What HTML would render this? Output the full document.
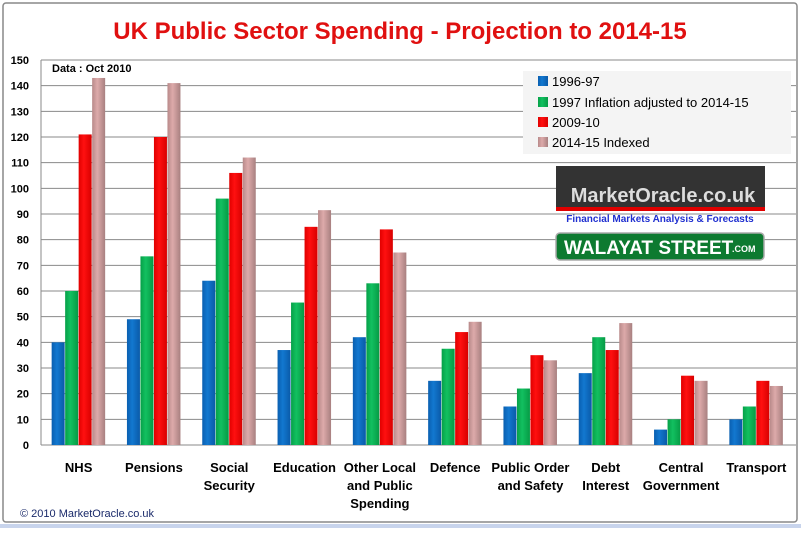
<!DOCTYPE html>
<html><head><meta charset="utf-8"><style>
body{margin:0;width:801px;height:528px;background:#fff;overflow:hidden;font-family:"Liberation Sans",sans-serif}
</style></head><body>
<svg width="801" height="528" xmlns="http://www.w3.org/2000/svg" id="chart">
<defs>
<linearGradient id="g0" x1="0" x2="1"><stop offset="0" stop-color="#0a5fb0"/><stop offset="0.4" stop-color="#1278d0"/><stop offset="1" stop-color="#0a5aa8"/></linearGradient>
<linearGradient id="g1" x1="0" x2="1"><stop offset="0" stop-color="#06a048"/><stop offset="0.4" stop-color="#12c060"/><stop offset="1" stop-color="#069a45"/></linearGradient>
<linearGradient id="g2" x1="0" x2="1"><stop offset="0" stop-color="#e00000"/><stop offset="0.4" stop-color="#ff1010"/><stop offset="1" stop-color="#d80000"/></linearGradient>
<linearGradient id="g3" x1="0" x2="1"><stop offset="0" stop-color="#b88a8a"/><stop offset="0.4" stop-color="#ddaaaa"/><stop offset="1" stop-color="#a88080"/></linearGradient>
</defs>
<rect x="3" y="3" width="794" height="519" fill="#fff" stroke="#888" stroke-width="1.5" rx="3"/>
<rect x="0" y="524" width="801" height="4" fill="#c8d4ec"/>
<text x="400" y="39" text-anchor="middle" font-size="24" font-weight="bold" fill="#e01010">UK Public Sector Spending - Projection to 2014-15</text>
<g id="grid"></g>
<g id="bars"></g>
<g id="xlabels"></g>
<text x="52" y="72" font-size="11" font-weight="bold" fill="#000">Data : Oct 2010</text>
<g>
<rect x="523" y="71" width="268" height="83" fill="#f4f4f4"/>
<rect x="538" y="76" width="10" height="10" fill="url(#g0)"/><text x="552" y="86" font-size="13" fill="#000">1996-97</text>
<rect x="538" y="97" width="10" height="10" fill="url(#g1)"/><text x="552" y="107" font-size="13" fill="#000">1997 Inflation adjusted to 2014-15</text>
<rect x="538" y="117" width="10" height="10" fill="url(#g2)"/><text x="552" y="127" font-size="13" fill="#000">2009-10</text>
<rect x="538" y="137" width="10" height="10" fill="url(#g3)"/><text x="552" y="147" font-size="13" fill="#000">2014-15 Indexed</text>
</g>
<g>
<rect x="556" y="166" width="209" height="42" fill="#333"/>
<rect x="556" y="207" width="209" height="4" fill="#e00000"/>
<text x="663" y="202" text-anchor="middle" font-size="20" font-weight="bold" fill="#ddd">MarketOracle.co.uk</text>
<text x="660" y="222" text-anchor="middle" font-size="10" font-weight="bold" fill="#2030d0">Financial Markets Analysis &amp; Forecasts</text>
</g>
<g>
<rect x="556" y="233" width="208" height="27" rx="4" fill="#0d7a30" stroke="#aaa" stroke-width="1.5"/>
<text x="564" y="254" font-size="19" font-weight="bold" fill="#fff" font-family="'Liberation Sans Narrow','Liberation Sans',sans-serif">WALAYAT STREET</text>
<text x="732" y="252" font-size="9" font-weight="bold" fill="#fff">.COM</text>
</g>
<text x="20" y="517" font-size="11" fill="#1a2a6a">© 2010 MarketOracle.co.uk</text>
</svg>
<script>
const categories=[["NHS"],["Pensions"],["Social","Security"],["Education"],["Other Local","and Public","Spending"],["Defence"],["Public Order","and Safety"],["Debt","Interest"],["Central","Government"],["Transport"]];
const s1996=[40,49,64,37,42,25,15,28,6,10];
const sInfl=[60,73.5,96,55.5,63,37.5,22,42,10,15];
const s2009=[121,120,106,85,84,44,35,37,27,25];
const s2014=[143,141,112,91.5,75,48,33,47.5,25,23];
const yTicks=[0,10,20,30,40,50,60,70,80,90,100,110,120,130,140,150];
const NS="http://www.w3.org/2000/svg";
const X0=41,CW=75.3,Y0=445,YT=60,YMAX=150;
const y=v=>Y0-(v/YMAX)*(Y0-YT);
const xc=i=>X0+CW*(i+0.5);
function mk(t,a,p){const e=document.createElementNS(NS,t);for(const k in a)e.setAttribute(k,a[k]);p.appendChild(e);return e;}
const grid=document.getElementById('grid');
yTicks.forEach(v=>{
 const l=mk('line',{x1:X0,x2:796,y1:y(v),y2:y(v),stroke:'#8a8a8a','stroke-width':1},grid);
 
 
 const t=mk('text',{x:29,y:y(v)+4,'text-anchor':'end','font-size':11,'font-weight':'bold',fill:'#000'},grid);
 t.textContent=v;
 
 
});
const ax=mk('line',{x1:X0,x2:X0,y1:YT,y2:Y0,stroke:'#8a8a8a'},grid);


const series=[s1996,sInfl,s2009,s2014];
const bars=document.getElementById('bars');
const BW=13.5;
series.forEach((s,si)=>{
 s.forEach((v,i)=>{
  const bx=xc(i)-2*BW+si*BW;
  const r=mk('rect',{x:bx,y:y(v),width:BW-0.5,height:Y0-y(v),fill:'url(#g'+si+')'},bars);
  
  
 });
});
const xl=document.getElementById('xlabels');
categories.forEach((c,i)=>{
 const t=mk('text',{x:xc(i),y:472,'text-anchor':'middle','font-size':13,'font-weight':'bold',fill:'#000','font-family':"'Liberation Sans Narrow','Liberation Sans',sans-serif"},xl);
 
 
 c.forEach((line,j)=>{const ts=mk('tspan',{x:xc(i),dy:j?18:0},t);ts.textContent=line;});
});
</script>
</body></html>
